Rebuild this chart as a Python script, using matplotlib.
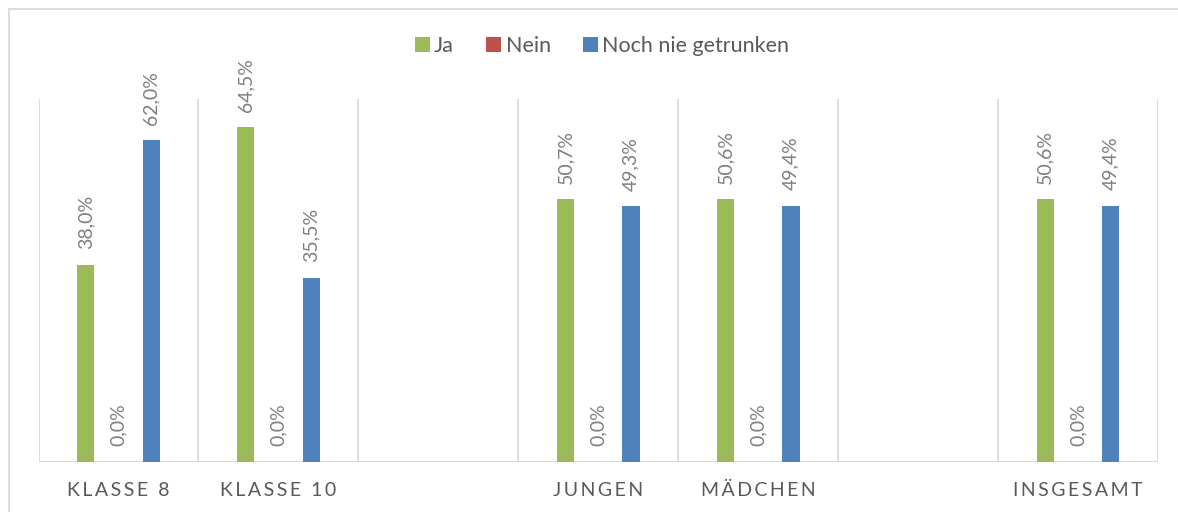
import numpy as np
import matplotlib
matplotlib.use("Agg")
import matplotlib.pyplot as plt
from matplotlib.patches import Patch, Rectangle
import matplotlib.transforms as mtransforms

categories = ["KLASSE 8", "KLASSE 10", "", "JUNGEN", "MÄDCHEN", "", "INSGESAMT"]
series_names = ["Ja", "Nein", "Noch nie getrunken"]
ja = [38.0, 64.5, np.nan, 50.7, 50.6, np.nan, 50.6]
nein = [0.0, 0.0, np.nan, 0.0, 0.0, np.nan, 0.0]
noch_nie = [62.0, 35.5, np.nan, 49.3, 49.4, np.nan, 49.4]
colors = ["#9BBB59", "#C0504D", "#4F81BD"]

W, H = 1178, 512
fig = plt.figure(figsize=(W / 100, H / 100), dpi=100)
FONT = ["Lato", "DejaVu Sans"]

# chart border
fig.patches.append(Rectangle((8.5 / W, -0.1), 1.2, 1 - 9 / H + 0.1, transform=fig.transFigure,
                             fill=False, edgecolor="#d9d9d9", linewidth=1.3, zorder=0))

ax = fig.add_axes([38.5 / W, 1 - 461.5 / H, (1158 - 38.5) / W, (461.5 - 99) / H])
ax.set_xlim(-0.5, len(categories) - 0.5)
ax.set_ylim(0, 70)
for s in ax.spines.values():
    s.set_visible(False)
ax.set_xticks([])
ax.set_yticks([])

x = np.arange(len(categories))
offset = 0.205
width = 0.108
all_series = [ja, nein, noch_nie]
for i, (vals, c) in enumerate(zip(all_series, colors)):
    xs = x + (i - 1) * offset
    ax.bar(xs, vals, width=width, color=c, zorder=3)
    for xi, v in zip(xs, vals):
        if np.isnan(v):
            continue
        ax.annotate(f"{v:.1f}%".replace(".", ","), (xi, v), xytext=(0, 11),
                    textcoords="offset points", rotation=90, ha="center", va="bottom",
                    fontsize=14, color="#7f7f7f", family=FONT, zorder=4)

# category dividers and baseline
for b in np.arange(-0.5, len(categories), 1.0):
    ax.axvline(b, color="#d9d9d9", linewidth=1.3, zorder=1)
ax.axhline(0, color="#d9d9d9", linewidth=1.6, zorder=2)

# category labels with letter spacing
trans = mtransforms.blended_transform_factory(ax.transData, ax.transAxes)
for xi, lab in zip(x, categories):
    if not lab:
        continue
    spaced = "\u2009".join(lab)
    ax.text(xi, -(496 - 461.5) / (461.5 - 99), spaced, transform=trans, ha="center",
            va="baseline", fontsize=14, color="#595959", family=FONT)

handles = [Patch(facecolor=c, edgecolor="none") for c in colors]
fig.legend(handles, series_names, loc="center", bbox_to_anchor=(602 / W, 1 - 46 / H),
           ncol=3, frameon=False, handlelength=0.7, handleheight=0.7,
           handletextpad=0.2, columnspacing=1.5, prop={"family": FONT, "size": 15.5},
           labelcolor="#595959")

fig.savefig("out.png", dpi=100)
